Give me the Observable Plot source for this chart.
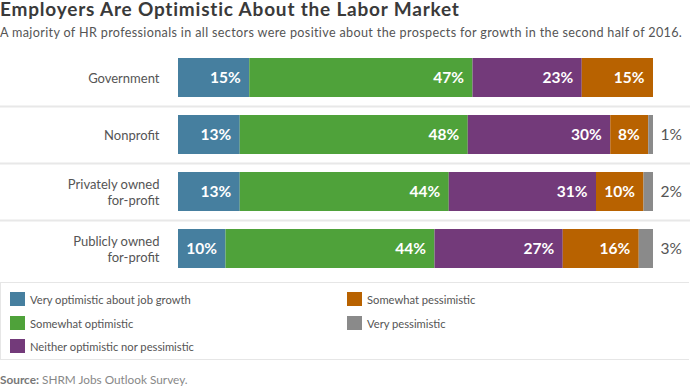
<!DOCTYPE html>
<html>
<head>
<meta charset="utf-8">
<script src="https://cdn.jsdelivr.net/npm/d3@7"></script>
<script src="https://cdn.jsdelivr.net/npm/@observablehq/plot@0.6"></script>
<style>
  html, body { margin: 0; padding: 0; background: #fff; }
  body { width: 690px; height: 389px; overflow: hidden; font-family: Lato, "Noto Sans", sans-serif; }
  #wrap { position: relative; width: 690px; height: 389px; }
  #title { position: absolute; left: 0; top: 0; font-size: 19px; line-height: 18px; font-weight: 700; color: #3a3a3a; white-space: nowrap; letter-spacing: 0.8px; }
  #subtitle { position: absolute; left: 0; top: 25px; font-size: 12.6px; color: #555; white-space: nowrap; letter-spacing: 0.35px; }
  #chart { position: absolute; left: 0; top: 40px; }
  #legend { position: absolute; left: 0; top: 282px; width: 689px; height: 78px; border: 1px solid #e6e6e6; border-right: none; box-sizing: border-box; }
  .item { position: absolute; display: flex; align-items: center; font-size: 11.2px; color: #555; white-space: nowrap; }
  .sw { width: 15px; height: 14px; margin-right: 5px; }
  #source { position: absolute; left: 0; top: 372px; font-size: 11.8px; color: #888; white-space: nowrap; }
  #source b { color: #777; font-weight: 700; }
</style>
</head>
<body>
<div id="wrap">
  <div id="title"></div>
  <div id="subtitle"></div>
  <div id="chart"></div>
  <div id="legend"></div>
  <div id="source"><b>Source:</b> SHRM Jobs Outlook Survey.</div>
</div>
<script>
const titleText = "Employers Are Optimistic About the Labor Market";
const subtitleText = "A majority of HR professionals in all sectors were positive about the prospects for growth in the second half of 2016.";

const sectors = ["Government", "Nonprofit", "Privately owned\nfor-profit", "Publicly owned\nfor-profit"];
const categories = ["Very optimistic about job growth", "Somewhat optimistic", "Neither optimistic nor pessimistic", "Somewhat pessimistic", "Very pessimistic"];
const colors = ["#467f9f", "#4fa23a", "#733a7a", "#b86200", "#8a8a8a"];

const veryOptimistic   = [15, 13, 13, 10];
const somewhatOptimistic = [47, 48, 44, 44];
const neither          = [23, 30, 31, 27];
const somewhatPessimistic = [15, 8, 10, 16];
const veryPessimistic  = [0, 1, 2, 3];

const series = [veryOptimistic, somewhatOptimistic, neither, somewhatPessimistic, veryPessimistic];

document.getElementById("title").textContent = titleText;
document.getElementById("subtitle").textContent = subtitleText;

const data = [];
sectors.forEach((s, i) => {
  categories.forEach((c, j) => {
    data.push({sector: s, category: c, value: series[j][i]});
  });
});

const last = categories[categories.length - 1];

const plot = Plot.plot({
  width: 690,
  height: 240,
  marginTop: 9,
  marginBottom: 3,
  marginLeft: 0,
  marginRight: 0,
  style: {fontFamily: "Lato, 'Noto Sans', sans-serif", background: "transparent"},
  x: {domain: [0, 100], range: [178, 653], axis: null},
  y: {domain: sectors, paddingInner: 0.32, paddingOuter: 0.16, axis: null},
  color: {domain: categories, range: colors},
  marks: [
    Plot.ruleY(sectors.slice(0, 3), {y: d => d, dy: 28.5, stroke: "#e8e8e8", strokeWidth: 2}),
    Plot.barX(data, Plot.stackX({x: "value", y: "sector", fill: "category", order: null})),
    Plot.text(data, Plot.stackX2({
      x: "value", y: "sector", z: "category", order: null,
      text: d => (d.category !== last && d.value > 0) ? d.value + "%" : null,
      dx: -9, textAnchor: "end", fill: "white", fontSize: 15.5, fontWeight: 700
    })),
    Plot.text(data, Plot.stackX2({
      x: "value", y: "sector", z: "category", order: null,
      text: d => (d.category === last && d.value > 0) ? d.value + "%" : null,
      dx: 7, textAnchor: "start", fill: "#555", fontSize: 15.5, fontWeight: 400
    })),
    Plot.text(sectors, {
      x: 0, y: d => d, text: d => d, dx: -19, textAnchor: "end",
      fill: "#555", fontSize: 13, lineHeight: 1.2
    })
  ]
});
document.getElementById("chart").appendChild(plot);

// legend
const legendPos = [
  {left: 9, top: 291}, {left: 9, top: 315}, {left: 9, top: 338},
  {left: 346, top: 291}, {left: 346, top: 315}
];
const legend = document.getElementById("legend");
categories.forEach((c, j) => {
  const it = document.createElement("div");
  it.className = "item";
  it.style.left = legendPos[j].left + "px";
  it.style.top = (legendPos[j].top - 282) + "px";
  const sw = document.createElement("div");
  sw.className = "sw";
  sw.style.background = colors[j];
  const lab = document.createElement("span");
  lab.textContent = c;
  it.appendChild(sw);
  it.appendChild(lab);
  legend.appendChild(it);
});
</script>
</body>
</html>
